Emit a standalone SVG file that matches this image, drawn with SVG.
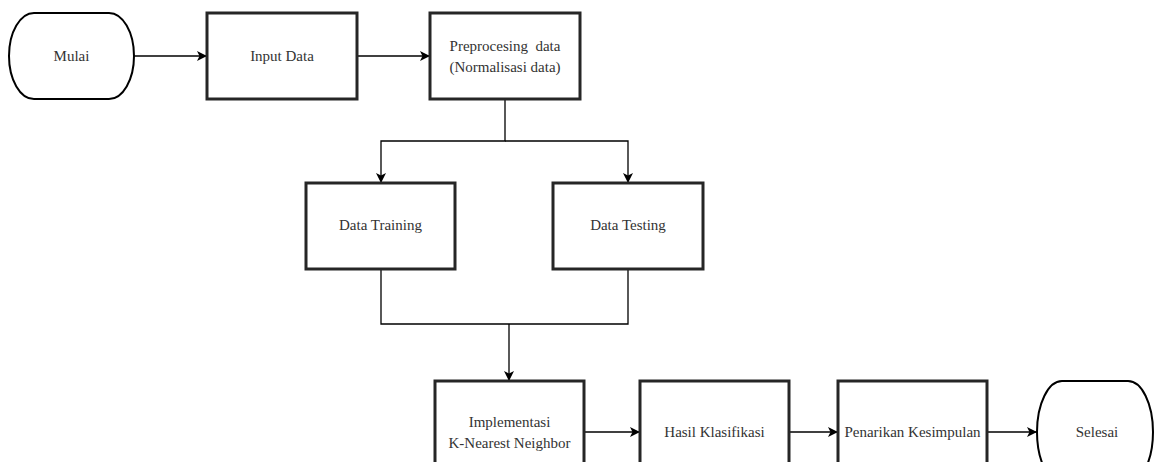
<svg xmlns="http://www.w3.org/2000/svg" width="1155" height="462" viewBox="0 0 1155 462">
<style>
.box{fill:#fff;stroke:#262626;stroke-width:3}
.term{fill:#fff;stroke:#000;stroke-width:2}
.lbl{font-family:"Liberation Serif","Times New Roman",serif;font-size:15px;fill:#333;text-anchor:middle;dominant-baseline:central;white-space:pre}
.conn{fill:none;stroke:#000;stroke-width:1.3}
</style>
<defs>
<marker id="ah" viewBox="0 0 10 10" refX="10" refY="5" markerWidth="10" markerHeight="10" markerUnits="userSpaceOnUse" orient="auto">
<path d="M0,0 L10,5 L0,10 L2.5,5 Z" fill="#000"/>
</marker>
</defs>
<rect width="1155" height="462" fill="#fff"/>
<g id="connectors">
<path class="conn" d="M134,56 H207" marker-end="url(#ah)"/>
<path class="conn" d="M357,56 H430" marker-end="url(#ah)"/>
<path class="conn" d="M505,99 V141 H381 V183" marker-end="url(#ah)"/>
<path class="conn" d="M505,141 H628 V183" marker-end="url(#ah)"/>
<path class="conn" d="M381,269 V324 H628 V269"/>
<path class="conn" d="M509,324 V381" marker-end="url(#ah)"/>
<path class="conn" d="M584,432 H640" marker-end="url(#ah)"/>
<path class="conn" d="M789,432 H838" marker-end="url(#ah)"/>
<path class="conn" d="M987,432 H1037" marker-end="url(#ah)"/>
</g>
<g id="mulai">
<rect class="term" x="9" y="13" width="125" height="86" rx="25" ry="43"/>
<text class="lbl" x="71.5" y="56">Mulai</text>
</g>
<g id="input-data">
<rect class="box" x="207" y="13" width="150" height="86"/>
<text class="lbl" x="282" y="56">Input Data</text>
</g>
<g id="preprocessing">
<rect class="box" x="430" y="13" width="150" height="86"/>
<text class="lbl" x="505" y="46" xml:space="preserve">Preprocesing  data</text>
<text class="lbl" x="505" y="67">(Normalisasi data)</text>
</g>
<g id="data-training">
<rect class="box" x="306" y="183" width="149" height="86"/>
<text class="lbl" x="380.5" y="225">Data Training</text>
</g>
<g id="data-testing">
<rect class="box" x="553" y="183" width="150" height="86"/>
<text class="lbl" x="628" y="225">Data Testing</text>
</g>
<g id="knn">
<rect class="box" x="435" y="381" width="149" height="102"/>
<text class="lbl" x="509.5" y="422">Implementasi</text>
<text class="lbl" x="509.5" y="443">K-Nearest Neighbor</text>
</g>
<g id="hasil">
<rect class="box" x="640" y="381" width="149" height="102"/>
<text class="lbl" x="714.5" y="432">Hasil Klasifikasi</text>
</g>
<g id="penarikan">
<rect class="box" x="838" y="381" width="149" height="102"/>
<text class="lbl" x="912.5" y="432">Penarikan Kesimpulan</text>
</g>
<g id="selesai">
<rect class="term" x="1037" y="381" width="116" height="102" rx="25" ry="51"/>
<text class="lbl" x="1097" y="432">Selesai</text>
</g>
</svg>
